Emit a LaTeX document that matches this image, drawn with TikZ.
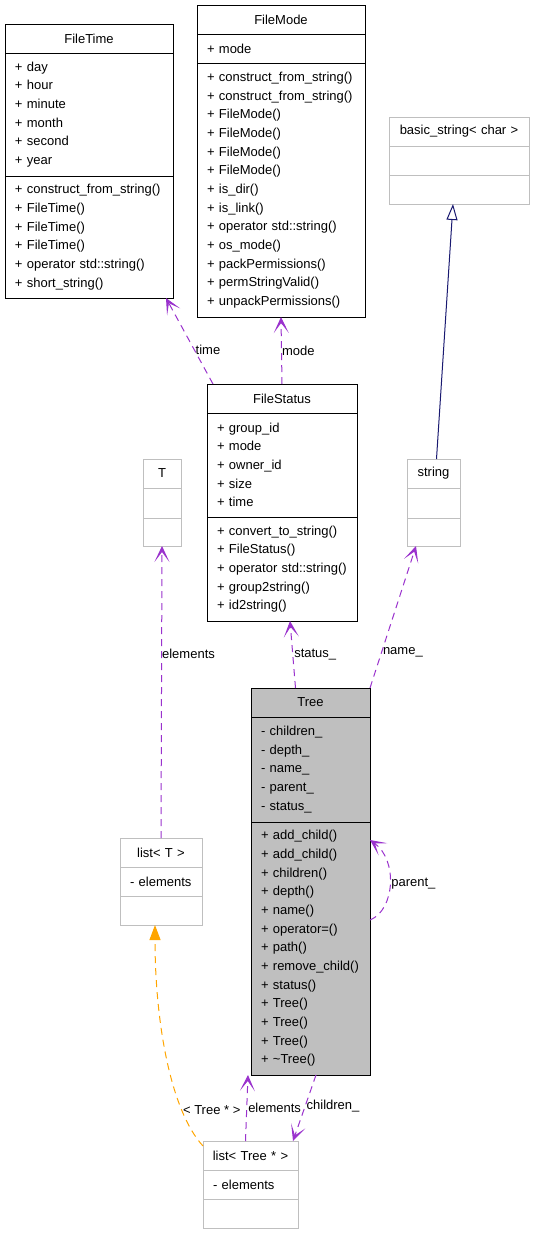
\documentclass[tikz,border=0pt]{standalone}
\usepackage{fontspec}
\setmainfont{Liberation Sans}
\usetikzlibrary{arrows.meta}
\definecolor{relpurple}{HTML}{9A32CD}
\definecolor{tplorange}{HTML}{FFA500}
\definecolor{inhnavy}{HTML}{191970}
\definecolor{boxgrey}{HTML}{BFBFBF}
\hyphenpenalty=10000
\exhyphenpenalty=10000
\begin{document}
\begin{tikzpicture}[
x=1pt,
y=-1pt,
font=\fontsize{13}{18.67}\selectfont,
classtitle/.style={
rectangle,
line width=1pt,
inner xsep=4pt,
inner ysep=1pt,
outer sep=0pt,
anchor=north west,
align=center,
minimum height=29pt
},
classpart/.style={
rectangle,
line width=1pt,
inner xsep=10pt,
inner ysep=1pt,
outer sep=0pt,
anchor=north west,
align=left
},
docbox/.style={
draw=black
},
undocbox/.style={
draw=boxgrey
},
focusbox/.style={
draw=black,
fill=boxgrey
},
assoc/.style={
-{Stealth[length=16pt,width=15pt,inset=10pt]},
line width=1pt,
draw=relpurple,
dash pattern=on 7pt off 5pt
},
tmpl/.style={
-{Triangle[length=15pt,width=11pt]},
line width=1pt,
draw=tplorange,
dash pattern=on 7pt off 5pt
},
inherit/.style={
-{Triangle[open,length=16pt,width=11pt]},
line width=1pt,
draw=inhnavy
},
lbl/.style={
anchor=west,
inner xsep=1pt,
inner ysep=1pt,
text=black
}
]

\useasboundingbox (0,0) rectangle (533,1235);

\node[classtitle, docbox, text width=160pt] (filetime) at (5,24) {FileTime};
\node[classpart, docbox, text width=148pt, minimum height=123pt] (filetime-attr) at (filetime.south west)
{+ day\\+ hour\\+ minute\\+ month\\+ second\\+ year};
\node[classpart, docbox, text width=148pt, minimum height=122pt] (filetime-ops) at (filetime-attr.south west)
{+ construct\_from\_string()\\+ FileTime()\\+ FileTime()\\+ FileTime()\\+ operator std::string()\\+ short\_string()};

\node[classtitle, docbox, text width=160pt] (filemode) at (197,5) {FileMode};
\node[classpart, docbox, text width=148pt, minimum height=29pt] (filemode-attr) at (filemode.south west)
{+ mode};
\node[classpart, docbox, text width=148pt, minimum height=254pt] (filemode-ops) at (filemode-attr.south west)
{+ construct\_from\_string()\\+ construct\_from\_string()\\+ FileMode()\\+ FileMode()\\+ FileMode()\\+ FileMode()\\+ is\_dir()\\+ is\_link()\\+ operator std::string()\\+ os\_mode()\\+ packPermissions()\\+ permStringValid()\\+ unpackPermissions()};

\node[classtitle, undocbox, text width=132pt] (basicstring) at (389,117) {basic\_string< char >};
\node[classpart, undocbox, text width=120pt, minimum height=29pt] (basicstring-attr) at (basicstring.south west) {};
\node[classpart, undocbox, text width=120pt, minimum height=29pt] (basicstring-ops) at (basicstring-attr.south west) {};

\node[classtitle, docbox, text width=142pt] (filestatus) at (207,384) {FileStatus};
\node[classpart, docbox, text width=130pt, minimum height=104pt] (filestatus-attr) at (filestatus.south west)
{+ group\_id\\+ mode\\+ owner\_id\\+ size\\+ time};
\node[classpart, docbox, text width=130pt, minimum height=104pt] (filestatus-ops) at (filestatus-attr.south west)
{+ convert\_to\_string()\\+ FileStatus()\\+ operator std::string()\\+ group2string()\\+ id2string()};

\node[classtitle, undocbox, text width=30pt] (tparam) at (143,459) {T};
\node[classpart, undocbox, text width=18pt, minimum height=30pt] (tparam-attr) at (tparam.south west) {};
\node[classpart, undocbox, text width=18pt, minimum height=28pt] (tparam-ops) at (tparam-attr.south west) {};

\node[classtitle, undocbox, text width=45pt] (stdstring) at (407,459) {string};
\node[classpart, undocbox, text width=33pt, minimum height=30pt] (stdstring-attr) at (stdstring.south west) {};
\node[classpart, undocbox, text width=33pt, minimum height=28pt] (stdstring-ops) at (stdstring-attr.south west) {};

\node[classtitle, focusbox, text width=111pt] (tree) at (251,688) {Tree};
\node[classpart, focusbox, text width=99pt, minimum height=105pt] (tree-attr) at (tree.south west)
{- children\_\\- depth\_\\- name\_\\- parent\_\\- status\_};
\node[classpart, focusbox, text width=99pt, minimum height=253pt] (tree-ops) at (tree-attr.south west)
{+ add\_child()\\+ add\_child()\\+ children()\\+ depth()\\+ name()\\+ operator=()\\+ path()\\+ remove\_child()\\+ status()\\+ Tree()\\+ Tree()\\+ Tree()\\+ \textasciitilde Tree()};

\node[classtitle, undocbox, text width=74pt] (listt) at (120,838) {list< T >};
\node[classpart, undocbox, text width=62pt, minimum height=29pt] (listt-attr) at (listt.south west)
{- elements};
\node[classpart, undocbox, text width=62pt, minimum height=29pt] (listt-ops) at (listt-attr.south west) {};

\node[classtitle, undocbox, text width=87pt] (listtree) at (203,1141) {list< Tree * >};
\node[classpart, undocbox, text width=75pt, minimum height=29pt] (listtree-attr) at (listtree.south west)
{- elements};
\node[classpart, undocbox, text width=75pt, minimum height=29pt] (listtree-ops) at (listtree-attr.south west) {};

\draw[inherit] ([xshift=3]stdstring.north) -- ([xshift=-6]basicstring-ops.south);

\draw[assoc] ([xshift=6]filestatus.north west) -- ([xshift=-7]filetime-ops.south east)
node[lbl, pos=0.4] {time};
\draw[assoc] (filestatus.north) -- (filemode-ops.south)
node[lbl, pos=0.5, inner xsep=0pt] {mode};
\draw[assoc] ([xshift=-15]tree.north) -- ([xshift=8]filestatus-ops.south)
node[lbl, pos=0.5] {status\_};
\draw[assoc] (tree.north east) -- ([xshift=9]stdstring-ops.south west)
node[lbl, pos=0.25] {name\_};
\draw[assoc] (listt.north) -- (tparam-ops.south)
node[lbl, pos=0.63, inner xsep=0pt] {elements};
\draw[assoc] ([yshift=28.5]tree-ops.east) .. controls +(25,-10) and +(28,20) .. ([yshift=108.5]tree-ops.east)
node[lbl, pos=0.5] {parent\_};
\draw[tmpl] ([yshift=-5]listtree.north west) .. controls (170,1110) and (155,1020) .. ([xshift=-6]listt-ops.south)
node[lbl, pos=0.25] {< Tree * >};
\draw[assoc] ([xshift=-5]listtree.north) -- ([xshift=-3]tree-ops.south west)
node[lbl, pos=0.5] {elements};
\draw[assoc] ([xshift=5.5]tree-ops.south) -- ([xshift=-5]listtree.north east)
node[lbl, pos=0.47] {children\_};

\end{tikzpicture}
\end{document}
